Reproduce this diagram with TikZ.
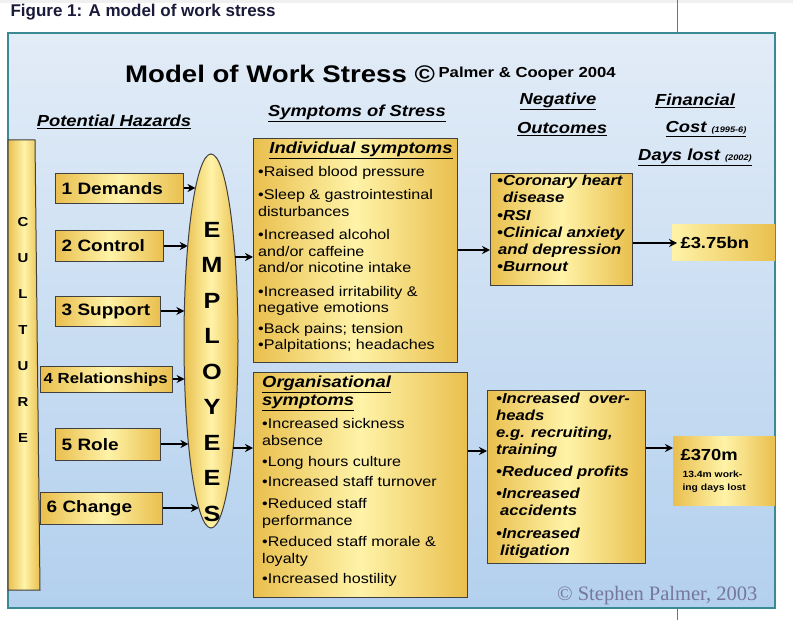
\documentclass[tikz,border=0pt]{standalone}
\usepackage{fontspec}
\setmainfont{Liberation Sans}[FakeStretch=1.15]
\newfontfamily\plainsans{Liberation Sans}
\newfontfamily\serifx{Liberation Serif}
\usetikzlibrary{shapes.geometric,arrows.meta}
\definecolor{yedge}{HTML}{E9BF4E}
\definecolor{ymid}{HTML}{FFF3A8}
\definecolor{teal}{HTML}{3A8A96}
\definecolor{navy}{HTML}{1A1A3A}
\definecolor{bgtop}{HTML}{E2ECF7}
\definecolor{bgbot}{HTML}{B3D0EE}
\definecolor{cpc}{HTML}{77769E}
\tikzset{
  ybx/.style={draw=black!75,line width=1pt,left color=yedge,right color=yedge,middle color=ymid},
  hz/.style={ybx,anchor=north west,inner xsep=6pt,inner ysep=0pt,font=\fontsize{16.5}{18}\selectfont\bfseries,align=left},
  arr/.style={-{Stealth[length=8pt,width=8pt]},line width=1.7pt},
  hd/.style={font=\fontsize{16}{18}\selectfont\bfseries\itshape},
  lt/.style={font=\fontsize{14}{16.5}\selectfont,align=left,anchor=north west,inner sep=0pt},
  ot/.style={lt,font=\fontsize{14.5}{17.2}\selectfont\bfseries\itshape},
}
\newcommand{\ul}[1]{\underline{#1}}
\begin{document}
\begin{tikzpicture}[x=1pt,y=-1pt]
\useasboundingbox (0,0) rectangle (793,620);
\fill[black!6] (0,0) rectangle (793,3);
\node[anchor=west,font=\fontsize{17}{19}\selectfont\plainsans\bfseries,text=navy] (fig) at (7,12) {Figure 1: A model of work stress};
\draw[teal,line width=1pt] (677,0) -- (677,33) (677,608) -- (677,620);
\shade[top color=bgtop,bottom color=bgbot] (8,33) rectangle (775,608);
\draw[teal,line width=2pt] (8,33) rectangle (775,608);
% titles
\node[font=\fontsize{24}{26}\selectfont\bfseries,anchor=west,inner sep=0pt] (ttl) at (125,74) {Model of Work Stress ©};
\node[font=\fontsize{14.5}{16}\selectfont\bfseries,anchor=west] (pc) at (ttl.east) {Palmer \& Cooper 2004};
\node[hd] (ph) at (114,122) {\ul{Potential Hazards}};
\node[hd] (ss) at (357,113) {\ul{Symptoms of Stress}};
\node[hd] (neg) at (558,101) {\ul{Negative}};
\node[hd] (out) at (562,129) {\ul{Outcomes}};
\node[hd] (fin) at (695,101) {\ul{Financial}};
\node[hd] (cost) at (706,129) {\ul{Cost {\fontsize{8}{9}\selectfont(1995-6)}}};
\node[hd] (days) at (695,157) {\ul{Days lost {\fontsize{8}{9}\selectfont(2002)}}};
% culture
\draw[ybx] (8,140) -- (35,140) -- (40,590) -- (8,590) -- cycle;
\foreach \c [count=\i] in {C,U,L,T,U,R,E}
  \node[font=\fontsize{13}{15}\selectfont\bfseries] (cu\i) at (23,186+36*\i) {\c};
% hazards
\node[hz,text width=116pt,minimum height=30pt] (h1) at (55,173) {1 Demands};
\node[hz,text width=96pt,minimum height=31pt] (h2) at (55,230) {2 Control};
\node[hz,text width=93pt,minimum height=30pt] (h3) at (55,296) {3 Support};
\node[hz,inner xsep=3pt,text width=126pt,minimum height=26pt,font=\fontsize{14.6}{16}\selectfont\bfseries] (h4) at (40,366) {4 Relationships};
\node[hz,text width=93pt,minimum height=32pt] (h5) at (55,428) {5 Role};
\node[hz,text width=110pt,minimum height=32pt] (h6) at (40,492) {6 Change};
% employees
\node[ellipse,ybx,minimum width=54pt,minimum height=374pt,inner sep=0pt] (emp) at (211,341) {};
\foreach \c [count=\i] in {E,M,P,L,O,Y,E,E,S}
  \node[font=\fontsize{22}{24}\selectfont\bfseries] (e\i) at (212,194+35.5*\i) {\c};
\foreach \h/\y in {h1/188,h2/246,h3/311,h4/379,h5/444,h6/508}{
  \pgfmathsetmacro{\ex}{211-27*sqrt(1-((\y-341)/187)^2)}
  \coordinate (t\h) at (\ex,\y);
  \draw[arr] (\h.east|-0,\y) -- (t\h);
}
% symptom boxes
\node[ybx,minimum width=204pt,minimum height=224pt,anchor=north west,inner sep=0pt] (ind) at (253,138) {};
\node[hd,anchor=north] (indh) at (361,138) {\ul{Individual symptoms}};
\node[lt] (indt) at (258,166) {•Raised blood pressure\\[7pt]•Sleep \& gastrointestinal\\disturbances\\[7pt]•Increased alcohol\\and/or caffeine\\and/or nicotine intake\\[7pt]•Increased irritability \&\\negative emotions\\[4pt]•Back pains; tension\\•Palpitations; headaches};
\node[ybx,minimum width=214pt,minimum height=225pt,anchor=north west,inner sep=0pt] (org) at (253,372) {};
\node[hd,anchor=north west,align=left,inner sep=0pt] (orgh) at (262,376) {\ul{Organisational}\\[0pt]\ul{symptoms}};
\node[lt,font=\fontsize{14}{17.5}\selectfont] (orgt) at (262,418) {•Increased sickness\\absence\\[3pt]•Long hours culture\\[3pt]•Increased staff turnover\\[4pt]•Reduced staff\\performance\\[3pt]•Reduced staff morale \&\\loyalty\\[2pt]•Increased hostility};
\coordinate (ee1) at (235,257);
\coordinate (ee2) at (233,448);
\draw[arr] (ee1) -- (ind.west|-ee1);
\draw[arr] (ee2) -- (org.west|-ee2);
% outcomes
\node[ybx,minimum width=142pt,minimum height=112pt,anchor=north west,inner sep=0pt] (o1) at (490,173) {};
\node[ot] (o1t) at (497,175) {•Coronary heart\\\hspace{6pt}disease\\•RSI\\•Clinical anxiety\\\hspace{1pt}and depression\\•Burnout};
\node[ybx,minimum width=158pt,minimum height=173pt,anchor=north west,inner sep=0pt] (o2) at (487,390) {};
\node[ot,font=\fontsize{14.5}{17}\selectfont\bfseries\itshape] (o2t) at (496,393) {•Increased\ \ over-\\heads\\e.g. recruiting,\\training\\[5pt]•Reduced profits\\[5pt]•Increased\\\hspace{4pt}accidents\\[6pt]•Increased\\\hspace{4pt}litigation};
\draw[arr] (ind.east|-0,250) -- (o1.west|-0,250);
\draw[arr] (org.east|-0,451) -- (o2.west|-0,451);
% cost
\shade[left color=ymid,right color=yedge] (672,225) rectangle (775,261);
\node[font=\fontsize{16}{18}\selectfont\bfseries,anchor=west] (c1) at (677,243) {£3.75bn};
\shade[left color=yedge,right color=yedge,middle color=ymid] (673,436) rectangle (775,505);
\node[font=\fontsize{16}{18}\selectfont\bfseries,anchor=west] (c2) at (677,455) {£370m};
\node[font=\fontsize{9}{13}\selectfont\bfseries,anchor=north west,align=left] (c2t) at (679,467) {13.4m work-\\ing days lost};
\draw[arr] (o1.east|-0,243) -- (c1.west|-0,243);
\coordinate (c2in) at (673,448);
\draw[arr] (o2.east|-c2in) -- (c2in);
\node[font=\fontsize{20.5}{22}\selectfont\serifx,text=cpc,anchor=east] (cp) at (761,596) {© Stephen Palmer, 2003};
\end{tikzpicture}
\end{document}
